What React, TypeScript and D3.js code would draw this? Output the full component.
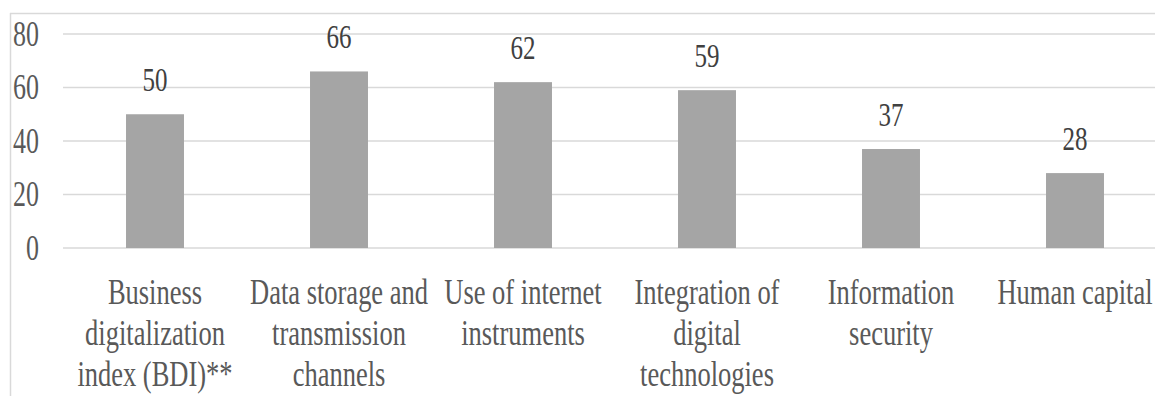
import React from "react";
import * as d3 from "d3";

const categories: string[][] = [
  ["Business", "digitalization", "index (BDI)**"],
  ["Data storage and", "transmission", "channels"],
  ["Use of internet", "instruments"],
  ["Integration of", "digital", "technologies"],
  ["Information", "security"],
  ["Human capital"],
];
const values: number[] = [50, 66, 62, 59, 37, 28];
const yTicks: number[] = [0, 20, 40, 60, 80];

const W = 1155;
const H = 396;
const FONT = '"Liberation Serif"';
// the serif type in this chart is set tall and narrow
const STRETCH = 1.35;

export default function App() {
  const plotLeft = 63;
  const step = 184;
  const x = d3
    .scaleBand<number>()
    .domain(d3.range(values.length))
    .range([plotLeft, plotLeft + step * values.length])
    .paddingInner(0.685)
    .paddingOuter(0.3425);
  const y = d3.scaleLinear().domain([0, 80]).range([248, 34]);
  const textStyle = { fontFamily: FONT };
  const place = (tx: number, ty: number) => `translate(${tx},${ty}) scale(1,${STRETCH})`;

  return (
    <svg
      width={W}
      height={H}
      style={{ position: "absolute", left: 0, top: 0, background: "#fff" }}
    >
      {/* chart frame */}
      <line x1={10.5} x2={10.5} y1={13} y2={H} stroke="#d9d9d9" strokeWidth={1.5} />
      <line x1={10} x2={W} y1={13.5} y2={13.5} stroke="#d9d9d9" strokeWidth={1.5} />

      {/* gridlines and y tick labels */}
      {yTicks.map((t) => (
        <g key={t}>
          <line
            x1={plotLeft}
            x2={W}
            y1={y(t)}
            y2={y(t)}
            stroke="#d9d9d9"
            strokeWidth={1.5}
          />
          <text
            transform={place(39, y(t) + 11.5)}
            textAnchor="end"
            fontSize={26}
            fill="#595959"
            style={textStyle}
          >
            {t}
          </text>
        </g>
      ))}

      {/* bars and value labels */}
      {values.map((v, i) => {
        const bx = x(i)!;
        const bw = x.bandwidth();
        return (
          <g key={i}>
            <rect x={bx} y={y(v)} width={bw} height={y(0) - y(v)} fill="#a5a5a5" />
            <text
              transform={place(bx + bw / 2, y(v) - 23)}
              textAnchor="middle"
              fontSize={25}
              fill="#404040"
              style={textStyle}
            >
              {v}
            </text>
          </g>
        );
      })}

      {/* category labels */}
      {categories.map((lines, i) => (
        <text
          key={i}
          transform={place(x(i)! + x.bandwidth() / 2, 304)}
          textAnchor="middle"
          fontSize={26.5}
          fill="#595959"
          style={textStyle}
        >
          {lines.map((ln, j) => (
            <tspan key={j} x={0} dy={j === 0 ? 0 : 41 / STRETCH}>
              {ln}
            </tspan>
          ))}
        </text>
      ))}
    </svg>
  );
}
